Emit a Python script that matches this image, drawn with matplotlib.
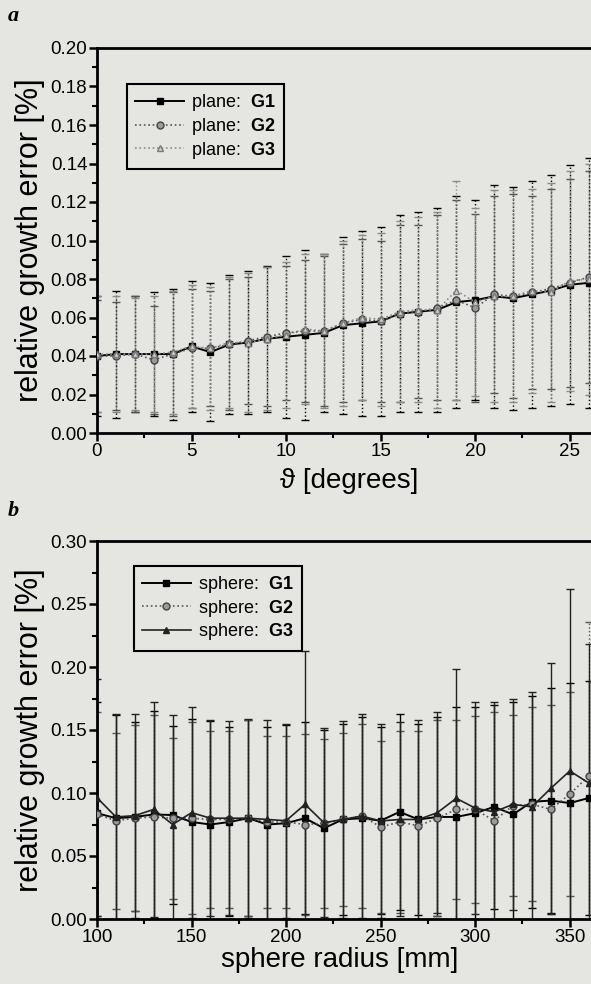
import numpy as np
import matplotlib
matplotlib.use("Agg")
import matplotlib.pyplot as plt
from matplotlib.ticker import MultipleLocator, FormatStrFormatter

plt.rcParams['font.family'] = ['Liberation Sans', 'DejaVu Sans']
plt.rcParams['mathtext.fontset'] = 'custom'
plt.rcParams['mathtext.rm'] = 'Liberation Sans'
plt.rcParams['mathtext.bf'] = 'Liberation Sans:bold'

# панель a: угол (градусы) и три серии
theta = np.arange(0, 27)
plane_g1 = [0.040, 0.041, 0.041, 0.041, 0.041, 0.045, 0.042, 0.046, 0.047, 0.049, 0.050, 0.051, 0.052, 0.056,
            0.057, 0.058, 0.062, 0.063, 0.064, 0.068, 0.069, 0.071, 0.070, 0.072, 0.074, 0.077, 0.078]
plane_g2 = [0.040, 0.040, 0.041, 0.038, 0.041, 0.044, 0.044, 0.046, 0.048, 0.050, 0.052, 0.053, 0.053, 0.057,
            0.059, 0.058, 0.062, 0.063, 0.065, 0.069, 0.065, 0.072, 0.071, 0.073, 0.075, 0.078, 0.081]
plane_g3 = [0.041, 0.041, 0.041, 0.041, 0.042, 0.045, 0.044, 0.047, 0.047, 0.049, 0.051, 0.054, 0.053, 0.057,
            0.060, 0.059, 0.063, 0.064, 0.064, 0.074, 0.068, 0.071, 0.071, 0.074, 0.073, 0.079, 0.080]
plane_g1_err = [0.031, 0.033, 0.030, 0.032, 0.034, 0.034, 0.036, 0.036, 0.037, 0.038, 0.042, 0.044, 0.041, 0.046,
                0.048, 0.049, 0.051, 0.052, 0.053, 0.055, 0.052, 0.058, 0.058, 0.059, 0.060, 0.062, 0.065]
plane_g2_err = [0.029, 0.028, 0.030, 0.028, 0.032, 0.031, 0.030, 0.034, 0.033, 0.036, 0.035, 0.037, 0.039, 0.041,
                0.042, 0.042, 0.046, 0.045, 0.048, 0.052, 0.049, 0.051, 0.053, 0.050, 0.052, 0.054, 0.055]
plane_g3_err = [0.030, 0.030, 0.029, 0.030, 0.032, 0.032, 0.032, 0.034, 0.036, 0.037, 0.038, 0.039, 0.040, 0.043,
                0.043, 0.045, 0.047, 0.048, 0.051, 0.057, 0.049, 0.055, 0.055, 0.053, 0.057, 0.057, 0.060]

# панель b: радиус сферы (мм)
radius = np.arange(100, 370, 10)
sphere_g1 = [0.084, 0.080, 0.081, 0.083, 0.0825, 0.077, 0.075, 0.077, 0.080, 0.075, 0.076, 0.080, 0.072, 0.079,
             0.080, 0.078, 0.085, 0.079, 0.081, 0.081, 0.084, 0.089, 0.083, 0.093, 0.094, 0.092, 0.096]
sphere_g2 = [0.083, 0.078, 0.080, 0.081, 0.080, 0.080, 0.079, 0.079, 0.080, 0.077, 0.077, 0.075, 0.076, 0.079,
             0.082, 0.073, 0.077, 0.074, 0.080, 0.087, 0.087, 0.078, 0.090, 0.091, 0.087, 0.099, 0.1135]
sphere_g3 = [0.0963, 0.081, 0.082, 0.087, 0.075, 0.0844, 0.080, 0.080, 0.080, 0.079, 0.078, 0.091, 0.0764, 0.079,
             0.0817, 0.0778, 0.079, 0.079, 0.0844, 0.0958, 0.088, 0.085, 0.091, 0.089, 0.1037, 0.1175, 0.108]
sphere_g1_err = [0.088, 0.082, 0.075, 0.082, 0.0705, 0.082, 0.082, 0.075, 0.078, 0.077, 0.078, 0.076, 0.078, 0.076,
                 0.080, 0.074, 0.078, 0.076, 0.079, 0.087, 0.084, 0.081, 0.089, 0.084, 0.089, 0.0955, 0.093]
sphere_g2_err = [0.081, 0.070, 0.074, 0.081, 0.064, 0.076, 0.070, 0.070, 0.078, 0.068, 0.068, 0.072, 0.067, 0.069,
                 0.073, 0.068, 0.072, 0.075, 0.078, 0.071, 0.074, 0.086, 0.072, 0.077, 0.083, 0.081, 0.1225]
sphere_g3_err = [0.094, 0.082, 0.081, 0.0855, 0.087, 0.0836, 0.078, 0.077, 0.079, 0.079, 0.077, 0.122, 0.075, 0.078,
                 0.081, 0.077, 0.077, 0.079, 0.080, 0.103, 0.084, 0.087, 0.084, 0.091, 0.0998, 0.1445, 0.110]

bg = '#e5e5e2'
W, H = 591, 984
fig = plt.figure(figsize=(W / 100, H / 100), dpi=100, facecolor=bg)

ax_w = 520 / W
ax_a = fig.add_axes([97 / W, 1 - 433 / H, ax_w, 385 / H], facecolor=bg)
ax_b = fig.add_axes([97 / W, 1 - 919 / H, ax_w, 378 / H], facecolor=bg)


def style_axes(ax):
    for s in ['left', 'bottom', 'top', 'right']:
        ax.spines[s].set_linewidth(2.0)
    ax.tick_params(which='major', direction='out', length=6, width=1.8, labelsize=13.5, pad=1.0,
                   top=False, right=False)
    ax.tick_params(which='minor', direction='out', length=3.5, width=1.5, top=False, right=False)


def draw_series(ax, x, y, err, color, ls, bar_ls, marker, mfc, mec, label, lw):
    eb = ax.errorbar(x, y, yerr=err, fmt='none', ecolor=color, elinewidth=1.0, capsize=3, capthick=1.0,
                     zorder=2)
    eb[2][0].set_linestyle(bar_ls)
    ax.plot(x, y, color=color, ls=ls, lw=lw, marker=marker, ms=5, mfc=mfc, mec=mec, mew=1.0,
            label=label, zorder=3)


def add_legend(ax, anchor):
    leg = ax.legend(loc='upper left', bbox_to_anchor=anchor, borderaxespad=0, fontsize=13, frameon=True,
                    fancybox=False, edgecolor='black', facecolor=bg, framealpha=1, handlelength=2.7,
                    labelspacing=0.15, borderpad=0.45, handletextpad=0.4)
    leg.get_frame().set_linewidth(1.5)


# --- панель a ---
draw_series(ax_a, theta, plane_g1, plane_g1_err, 'black', '-', ':', 's', 'black', 'black',
            r'plane:  $\mathbf{G1}$', 1.4)
draw_series(ax_a, theta, plane_g2, plane_g2_err, '#555555', ':', ':', 'o', '#9a9a9a', '#444444',
            r'plane:  $\mathbf{G2}$', 1.2)
draw_series(ax_a, theta, plane_g3, plane_g3_err, '#8a8a8a', ':', ':', '^', '#cfcfcf', '#7a7a7a',
            r'plane:  $\mathbf{G3}$', 1.2)

ax_a.set_xlim(0, 27.5)
ax_a.set_ylim(0, 0.20)
ax_a.xaxis.set_major_locator(MultipleLocator(5))
ax_a.xaxis.set_minor_locator(MultipleLocator(2.5))
ax_a.yaxis.set_major_locator(MultipleLocator(0.02))
ax_a.yaxis.set_minor_locator(MultipleLocator(0.01))
ax_a.yaxis.set_major_formatter(FormatStrFormatter('%.2f'))
style_axes(ax_a)
ax_a.set_ylabel('relative growth error [%]', fontsize=22)
ax_a.yaxis.set_label_coords(-0.10, 0.5)
ax_a.set_xlabel('ϑ [degrees]', fontsize=20)
ax_a.xaxis.set_label_coords(0.485, -0.09)
add_legend(ax_a, (0.058, 0.906))

# --- панель b ---
draw_series(ax_b, radius, sphere_g1, sphere_g1_err, 'black', '-', '-', 's', 'black', 'black',
            r'sphere:  $\mathbf{G1}$', 1.4)
draw_series(ax_b, radius, sphere_g2, sphere_g2_err, '#555555', ':', ':', 'o', '#9a9a9a', '#444444',
            r'sphere:  $\mathbf{G2}$', 1.2)
draw_series(ax_b, radius, sphere_g3, sphere_g3_err, '#222222', '-', '-', '^', '#222222', '#222222',
            r'sphere:  $\mathbf{G3}$', 1.2)

ax_b.set_xlim(100, 375)
ax_b.set_ylim(0, 0.30)
ax_b.xaxis.set_major_locator(MultipleLocator(50))
ax_b.xaxis.set_minor_locator(MultipleLocator(25))
ax_b.yaxis.set_major_locator(MultipleLocator(0.05))
ax_b.yaxis.set_minor_locator(MultipleLocator(0.025))
ax_b.yaxis.set_major_formatter(FormatStrFormatter('%.2f'))
style_axes(ax_b)
ax_b.set_ylabel('relative growth error [%]', fontsize=22)
ax_b.yaxis.set_label_coords(-0.10, 0.5)
ax_b.set_xlabel('sphere radius [mm]', fontsize=20)
ax_b.xaxis.set_label_coords(0.467, -0.075)
add_legend(ax_b, (0.071, 0.934))

# подписи панелей
fig.text(8 / W, 1 - 16 / H, 'a', fontsize=16, fontweight='bold', fontstyle='italic',
         family='Liberation Serif', va='center')
fig.text(8 / W, 1 - 511 / H, 'b', fontsize=16, fontweight='bold', fontstyle='italic',
         family='Liberation Serif', va='center')

fig.savefig('out.png', dpi=100, facecolor=bg)
